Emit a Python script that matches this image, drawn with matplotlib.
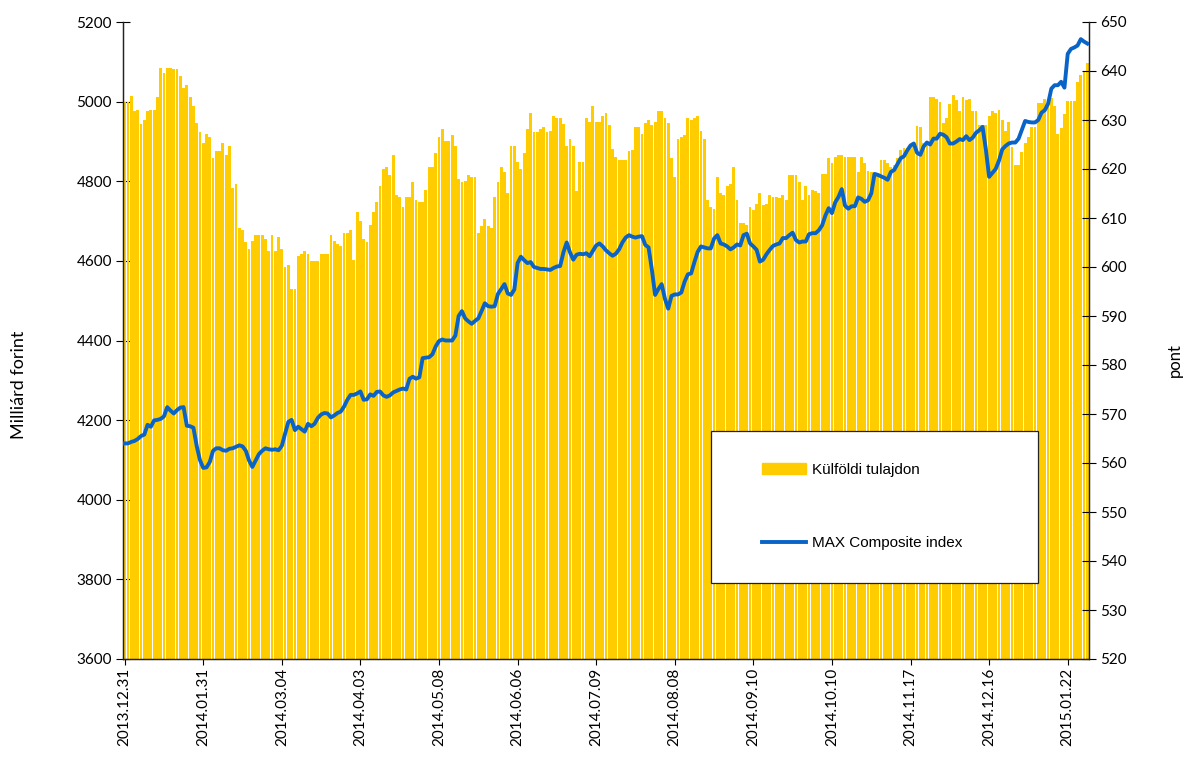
import numpy as np
import matplotlib
matplotlib.use("Agg")
import matplotlib.pyplot as plt
from matplotlib.patches import Rectangle

# Külföldi tulajdon (Milliárd forint), one bar per trading day
foreign = [
    5000, 5000, 5015, 4977, 4980, 4945, 4954, 4977, 4980, 4980, 5011, 5085,
    5072, 5085, 5085, 5081, 5081, 5064, 5033, 5042, 5011, 4989, 4946, 4923,
    4897, 4918, 4910, 4858, 4875, 4875, 4897, 4867, 4889, 4783, 4792, 4683,
    4678, 4648, 4630, 4651, 4665, 4665, 4665, 4656, 4626, 4665, 4626, 4660, 4630,
    4585, 4590, 4529, 4529, 4612, 4617, 4625, 4617, 4599, 4599, 4599, 4617,
    4617, 4617, 4665, 4651, 4642, 4638, 4669, 4669, 4678, 4603, 4722, 4700, 4656,
    4648, 4691, 4722, 4748, 4788, 4831, 4836, 4815, 4866, 4766, 4761, 4735,
    4761, 4761, 4797, 4753, 4748, 4748, 4778, 4836, 4836, 4871, 4910, 4932, 4901,
    4901, 4915, 4889, 4806, 4797, 4801, 4815, 4810, 4810, 4669, 4687, 4704,
    4687, 4683, 4761, 4797, 4836, 4822, 4770, 4889, 4889, 4849, 4831, 4871, 4932,
    4971, 4923, 4923, 4932, 4936, 4923, 4927, 4963, 4959, 4959, 4945, 4889,
    4906, 4889, 4775, 4849, 4849, 4959, 4950, 4989, 4950, 4950, 4963, 4971, 4941,
    4882, 4862, 4854, 4854, 4854, 4875, 4879, 4936, 4936, 4918, 4946, 4954,
    4941, 4950, 4976, 4976, 4959, 4946, 4858, 4810, 4906, 4910, 4915, 4959,
    4954, 4959, 4963, 4927, 4906, 4753, 4735, 4731, 4810, 4770, 4766, 4788,
    4792, 4836, 4753, 4696, 4696, 4691, 4735, 4727, 4744, 4770, 4740, 4744,
    4766, 4761, 4761, 4757, 4766, 4753, 4815, 4815, 4815, 4797, 4753, 4788,
    4766, 4779, 4775, 4770, 4818, 4818, 4858, 4845, 4862, 4866, 4866, 4862,
    4862, 4862, 4862, 4822, 4862, 4845, 4827, 4822, 4818, 4818, 4854, 4854,
    4845, 4836, 4840, 4858, 4879, 4884, 4884, 4889, 4893, 4940, 4937, 4897, 4893,
    5011, 5011, 5007, 5000, 4946, 4959, 4994, 5016, 5004, 4976, 5011, 5004,
    5007, 4976, 4976, 4941, 4941, 4941, 4963, 4976, 4972, 4980, 4954, 4927, 4950,
    4887, 4840, 4840, 4874, 4897, 4912, 4937, 4937, 4997, 4997, 5006, 5006,
    5008, 4989, 4919, 4935, 4970, 5002, 5002, 5002, 5050, 5067, 5075, 5096,
]

# MAX Composite index (pont)
max_index = [
    564.0, 564.0, 564.3, 564.5, 564.9, 565.5, 565.8, 567.8, 567.4, 568.7, 568.8, 569.0,
    569.5, 571.4, 570.7, 570.1, 570.8, 571.3, 571.4, 567.6, 567.5, 567.2, 563.5, 560.6,
    559.0, 559.1, 560.2, 562.5, 563.0, 563.0, 562.6, 562.5, 562.9, 563.0, 563.3, 563.6,
    563.4, 562.5, 560.5, 559.2, 560.5, 561.8, 562.5, 563.0, 562.8, 562.7, 562.8, 562.6,
    563.5, 566.0, 568.4, 568.8, 566.7, 567.4, 566.9, 566.4, 568.0, 567.5, 568.0, 569.2,
    569.9, 570.2, 570.1, 569.3, 569.7, 570.2, 570.5, 571.5, 572.9, 573.9, 573.9, 574.2,
    574.6, 572.9, 573.0, 574.0, 573.7, 574.5, 574.6, 573.8, 573.5, 573.8, 574.4, 574.7,
    575.0, 575.2, 575.0, 577.2, 577.6, 577.2, 577.5, 581.4, 581.5, 581.6, 582.2, 583.8,
    584.9, 585.2, 585.0, 585.0, 585.0, 586.0, 590.0, 591.0, 589.5, 588.9, 588.4, 589.0,
    589.5, 591.0, 592.6, 592.0, 591.9, 592.0, 594.5, 595.5, 596.5, 594.6, 594.3, 595.4,
    600.8, 602.1, 601.4, 600.8, 601.0, 600.0, 599.8, 599.6, 599.6, 599.5, 599.4, 599.8,
    600.1, 600.2, 603.0, 605.0, 603.0, 601.5, 602.5, 602.7, 602.6, 602.8, 602.2, 603.3,
    604.4, 604.8, 604.2, 603.4, 602.8, 602.3, 602.7, 603.6, 605.0, 606.0, 606.5, 606.2,
    606.0, 606.2, 606.3, 604.5, 604.0, 599.5, 594.3, 595.5, 596.5, 593.5, 591.5, 594.1,
    594.4, 594.4, 594.8, 597.0, 598.5, 598.7, 601.0, 603.1, 604.2, 604.0, 603.8, 603.8,
    605.8, 606.5, 604.8, 604.6, 604.2, 603.6, 604.0, 604.6, 604.4, 606.5, 606.8, 604.8,
    604.2, 603.5, 601.1, 601.5, 602.6, 603.5, 604.3, 604.6, 604.8, 605.9, 605.9, 606.5,
    607.0, 605.5, 605.0, 605.2, 605.2, 606.7, 606.9, 606.9, 607.5, 608.5, 610.5, 612.0,
    611.0, 613.2, 614.3, 615.9, 612.5, 611.9, 612.4, 612.4, 614.2, 613.9, 613.3, 613.6,
    615.0, 619.0, 618.8, 618.5, 618.2, 617.8, 619.4, 619.8, 621.0, 622.2, 622.6, 623.8,
    624.8, 625.2, 623.3, 622.9, 624.6, 625.4, 625.0, 626.2, 626.2, 627.2, 627.0, 626.5,
    625.2, 625.2, 625.6, 626.1, 625.9, 626.7, 625.9, 626.4, 627.4, 627.9, 628.6, 624.0,
    618.4, 619.2, 620.0, 621.7, 624.0, 624.7, 625.2, 625.4, 625.4, 626.2, 628.0, 629.8,
    629.6, 629.5, 629.5, 630.0, 631.5, 632.0, 633.3, 636.4, 637.1, 637.1, 637.8, 636.6,
    643.5, 644.5, 644.8, 645.2, 646.5, 646.0, 645.6,
]

date_labels = [
    "2013.12.31", "2014.01.31", "2014.03.04", "2014.04.03", "2014.05.08",
    "2014.06.06", "2014.07.09", "2014.08.08", "2014.09.10", "2014.10.10",
    "2014.11.17", "2014.12.16", "2015.01.22",
]
label_step = 24

plt.rcParams["font.family"] = ["Lato", "DejaVu Sans"]

W, H = 1184, 758
fig = plt.figure(figsize=(W / 100, H / 100), dpi=100)
ax = fig.add_axes([123 / W, 1 - 659 / H, (1089 - 123) / W, (659 - 22) / H])
ax2 = ax.twinx()

x = np.arange(len(foreign))
ax.bar(x, foreign, width=0.86, color="#FFCC00", linewidth=0, zorder=2)
ax2.plot(x[:len(max_index)], max_index, color="#0A64C8", lw=2.8,
         solid_joinstyle="round", zorder=3)

ax.set_xlim(-0.5, len(foreign) - 0.5)
ax.set_ylim(3600, 5200)
ax.set_yticks(np.arange(3600, 5201, 200))
ax2.set_ylim(520, 650)
ax2.set_yticks(np.arange(520, 651, 10))

ax.set_xticks(np.arange(len(date_labels)) * label_step)
ax.set_xticklabels(date_labels, rotation=90, fontsize=11)
ax.tick_params(axis="x", direction="out", length=4, width=0.8, pad=2)
ax.tick_params(axis="y", direction="inout", length=10, width=0.8, labelsize=11, pad=3)
ax2.tick_params(axis="y", direction="inout", length=10, width=0.8, labelsize=11, pad=3)

for a in (ax, ax2):
    a.spines["top"].set_visible(False)
    for s in ("left", "right", "bottom"):
        a.spines[s].set_color("#222222")
        a.spines[s].set_linewidth(0.9)

ax.set_ylabel("Milliárd forint", fontsize=13)
ax.yaxis.set_label_coords(-0.0994, 0.43)
ax2.set_ylabel("pont", fontsize=12)
ax2.yaxis.set_label_coords(1.081, 0.47)

# legend box
box = Rectangle((711 / W, 1 - 583 / H), (1038 - 711) / W, (583 - 431) / H,
                transform=fig.transFigure, facecolor="white", edgecolor="#222222",
                linewidth=0.9, zorder=5)
fig.patches.append(box)
handles = [plt.Rectangle((0, 0), 1, 1, color="#FFCC00"),
           plt.Line2D([], [], color="#0A64C8", lw=2.8)]
leg = fig.legend(handles, ["Külföldi tulajdon", "MAX Composite index"],
                 loc="center left", bbox_to_anchor=(762 / W, 1 - 506.5 / H),
                 bbox_transform=fig.transFigure, frameon=False, borderpad=0,
                 borderaxespad=0, handlelength=2.9, handleheight=0.8,
                 handletextpad=0.4, labelspacing=3.9,
                 prop={"family": ["Liberation Sans"], "size": 11})
leg.set_zorder(6)

fig.savefig("out.png", dpi=100)
